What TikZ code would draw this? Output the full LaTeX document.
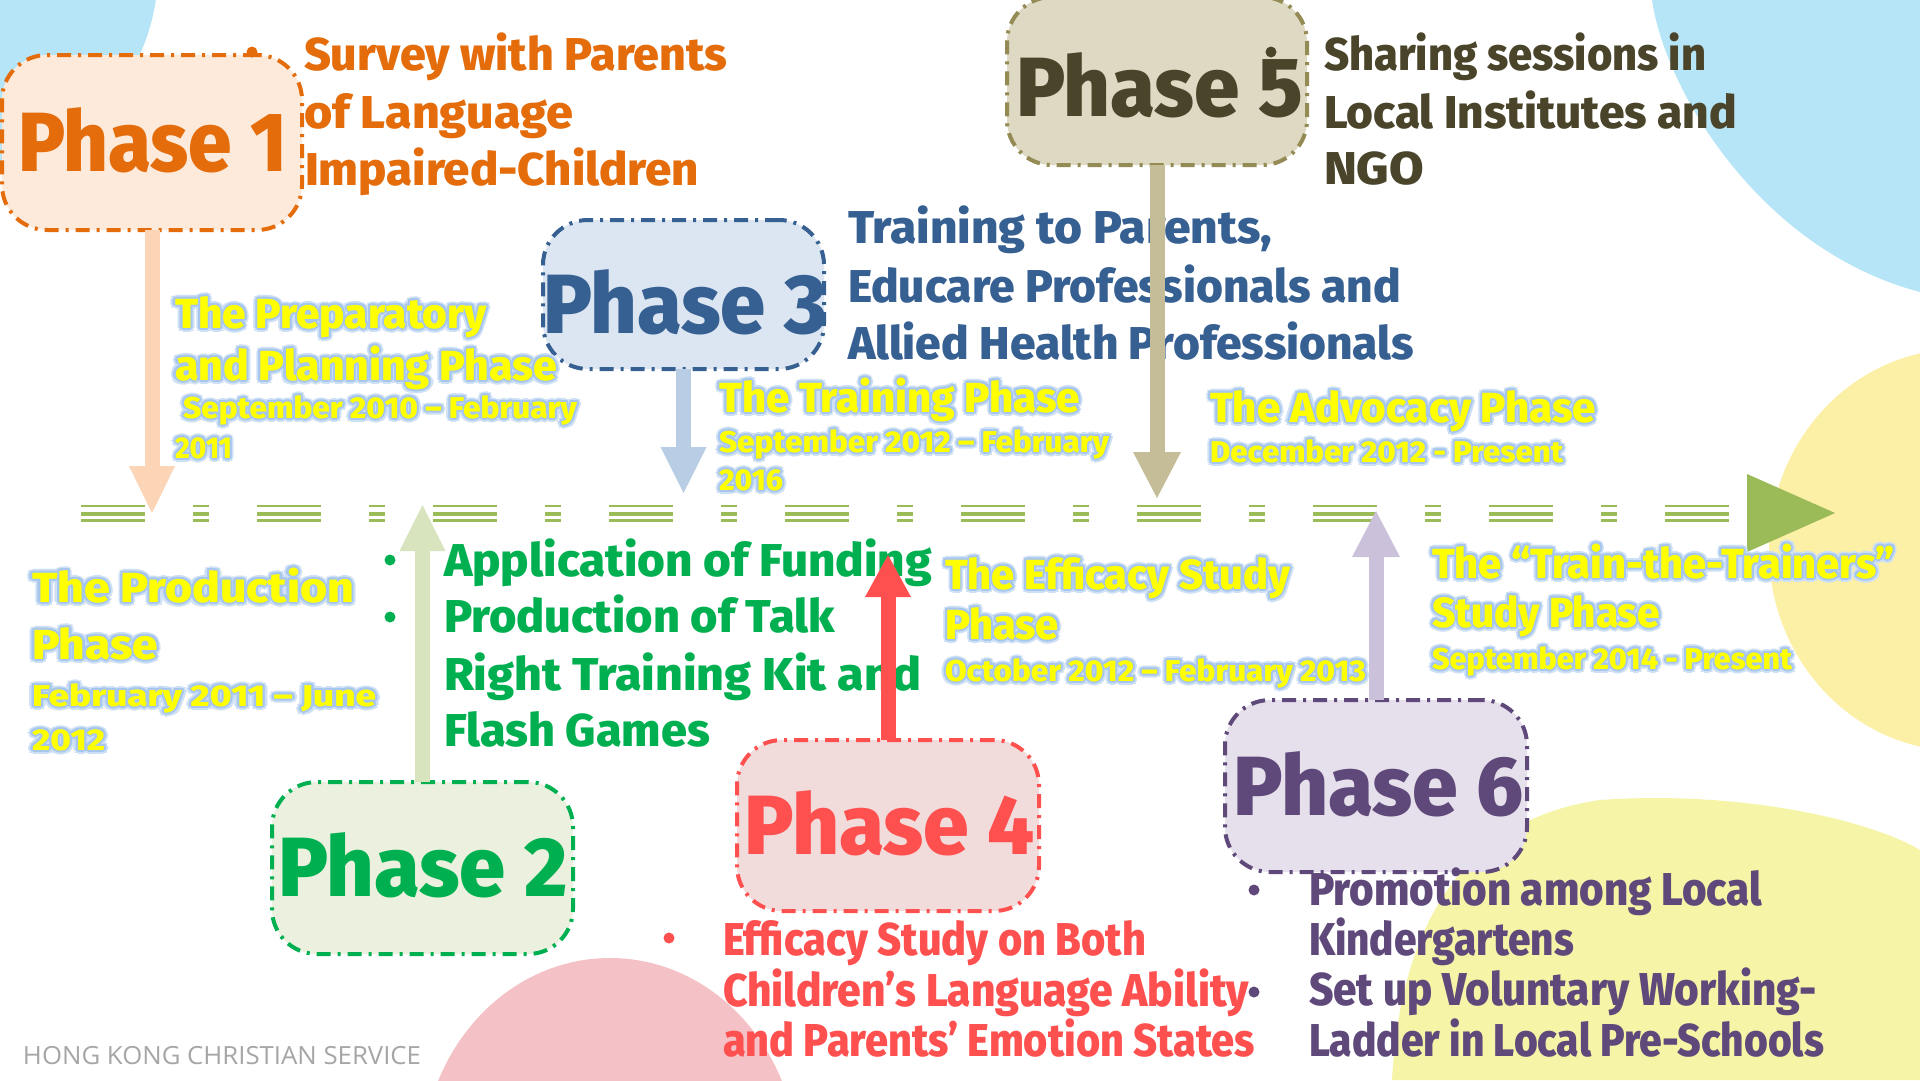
\documentclass[tikz,border=0pt]{standalone}
\usepackage{fontspec}
\usepackage{graphicx}
\setmainfont{Fira Sans}
\IfFontExistsTF{Fira Sans ExtraBold}{\newfontfamily\hv{Fira Sans ExtraBold}}{\newfontfamily\hv{Fira Sans}[UprightFont={* Bold}]}
\newfontfamily\footfont{Open Sans}
\definecolor{skyb}{HTML}{B6E5F7}
\definecolor{ylwA}{HTML}{FCEFA6}
\definecolor{ylwB}{HTML}{F6F4A6}
\definecolor{pinkb}{HTML}{F4C2C6}
\definecolor{tlgreen}{HTML}{9BBB59}
\definecolor{cA}{HTML}{E46C0A}\definecolor{fA}{HTML}{FDEADA}\definecolor{aA}{HTML}{FBD5B5}
\definecolor{cC}{HTML}{376092}\definecolor{fC}{HTML}{DCE6F2}\definecolor{aC}{HTML}{B9CDE5}
\definecolor{cE}{HTML}{4A452A}\definecolor{bE}{HTML}{948A54}\definecolor{fE}{HTML}{DDD9C3}\definecolor{aE}{HTML}{C4BD97}
\definecolor{cB}{HTML}{00B050}\definecolor{fB}{HTML}{EBF1DE}\definecolor{aB}{HTML}{D7E4BD}
\definecolor{cD}{HTML}{FF5050}\definecolor{fD}{HTML}{F2DCDB}\definecolor{aD}{HTML}{FF5050}
\definecolor{cF}{HTML}{5F497A}\definecolor{fF}{HTML}{E6E0EC}\definecolor{aF}{HTML}{CCC1DA}
\definecolor{yel}{HTML}{FFFF00}
\definecolor{glowc}{HTML}{A6C6EE}
\definecolor{footc}{HTML}{A6A6A6}
\newcommand\fitw[2]{\resizebox{#1pt}{\height}{#2}}
\newcommand\glowcopy[3]{\rlap{\textcolor{#1}{\hspace*{#2pt}\raisebox{#3pt}{\theglowtext}}}}
\newcommand\theglowtext{}
\newcommand\yl[1]{\renewcommand\theglowtext{#1}%
  \glowcopy{glowc!55}{4}{0}\glowcopy{glowc!55}{-4}{0}\glowcopy{glowc!55}{0}{4}\glowcopy{glowc!55}{0}{-4}%
  \glowcopy{glowc!55}{3}{3}\glowcopy{glowc!55}{-3}{3}\glowcopy{glowc!55}{3}{-3}\glowcopy{glowc!55}{-3}{-3}%
  \glowcopy{glowc}{2}{0}\glowcopy{glowc}{-2}{0}\glowcopy{glowc}{0}{2}\glowcopy{glowc}{0}{-2}%
  \glowcopy{glowc}{1.5}{1.5}\glowcopy{glowc}{-1.5}{1.5}\glowcopy{glowc}{1.5}{-1.5}\glowcopy{glowc}{-1.5}{-1.5}%
  \textcolor{yel}{#1}}
\begin{document}
\begin{tikzpicture}[x=1pt,y=-1pt,
  ln/.style={anchor=base west,inner sep=0pt,outer sep=0pt},
  desc/.style={ln,font=\fontsize{46}{50}\selectfont\hv},
  ttl/.style={ln,font=\fontsize{84}{90}\selectfont\hv},
  ybig/.style={ln,font=\fontsize{42}{46}\selectfont\hv},
  ysmall/.style={ln,font=\fontsize{30}{34}\selectfont\hv},
  pbox/.style={draw,line width=4pt,rounded corners=45pt,dash pattern=on 14pt off 7pt on 3pt off 7pt,inner sep=0pt,outer sep=0pt},
  shaft/.style={line width=15pt},
  tl/.style={draw=tlgreen,dash pattern=on 64pt off 48pt on 16pt off 48pt},
  bul/.style={radius=5.5}
]
\useasboundingbox (0,0) rectangle (1920,1080);
\clip (0,0) rectangle (1920,1080);
\fill[white] (0,0) rectangle (1920,1080);
% background blobs
\fill[skyb] (-60,-30) ellipse [x radius=218, y radius=211];
\fill[skyb] (1652,0) .. controls (1665,90) and (1760,250) .. (1920,292) -- (1920,0) -- cycle;
\fill[ylwA] (1960,550) ellipse [x radius=191, y radius=201];
\fill[ylwB] (1392,1080) .. controls (1400,930) and (1460,820) .. (1600,800) .. controls (1740,790) and (1870,820) .. (1920,850) -- (1920,1080) -- cycle;
\fill[pinkb] (610,1165) ellipse [x radius=188, y radius=207];
% timeline
\coordinate (tls) at (81,513.5);
\coordinate (tle) at (1729,513.5);
\coordinate (tlb) at (1747,513);
\coordinate (tltip) at (1835,513);
\draw[tl,line width=2.2pt] ([yshift=7.5pt]tls) -- ([yshift=7.5pt]tle);
\draw[tl,line width=4pt] (tls) -- (tle);
\draw[tl,line width=2.2pt] ([yshift=-7pt]tls) -- ([yshift=-7pt]tle);
\fill[tlgreen] ([yshift=39pt]tlb) -- (tltip) -- ([yshift=-39pt]tlb) -- cycle;
% boxes
\node[pbox,draw=cA,fill=fA,minimum width=300pt,minimum height=175pt] (p1) at (152,142.5) {};
\node[pbox,draw=cC,fill=fC,minimum width=281pt,minimum height=149pt] (p3) at (683.5,294.5) {};
\node[pbox,draw=bE,fill=fE,minimum width=300pt,minimum height=168pt] (p5) at (1157,81) {};
\node[pbox,draw=cB,fill=fB,minimum width=301pt,minimum height=172pt] (p2) at (422.5,868) {};
\node[pbox,draw=cD,fill=fD,minimum width=302pt,minimum height=171pt] (p4) at (888,825.5) {};
\node[pbox,draw=cF,fill=fF,minimum width=302pt,minimum height=172pt] (p6) at (1376,786) {};
% titles
\node[ttl,text=cA] (t1) at (18,171) {\fitw{269}{Phase 1}};
\node[ttl,text=cC] (t3) at (543,333) {\fitw{284}{Phase 3}};
\node[ttl,text=cE] (t5) at (1016,116) {\fitw{287}{Phase 5}};
\node[ttl,text=cB] (t2) at (278,896) {\fitw{290}{Phase 2}};
\node[ttl,text=cD] (t4) at (744,854) {\fitw{291}{Phase 4}};
\node[ttl,text=cF] (t6) at (1233,815) {\fitw{291}{Phase 6}};
% descriptions
\fill[cA] (252,52) circle[bul];
\node[desc,text=cA] (d1a) at (304,70) {\fitw{423}{Survey with Parents}};
\node[desc,text=cA] (d1b) at (304,128) {\fitw{269}{of Language}};
\node[desc,text=cA] (d1c) at (305,185) {\fitw{394}{Impaired-Children}};
\fill[cE] (1271,52) circle[bul];
\node[desc,text=cE] (d5a) at (1324,70) {\fitw{382}{Sharing sessions in}};
\node[desc,text=cE] (d5b) at (1324,128) {\fitw{413}{Local Institutes and}};
\node[desc,text=cE] (d5c) at (1324,184) {\fitw{100}{NGO}};
\node[desc,text=cC] (d3a) at (848,243) {\fitw{424}{Training to Parents,}};
\node[desc,text=cC] (d3b) at (848,302) {\fitw{553}{Educare Professionals and}};
\node[desc,text=cC] (d3c) at (848,359) {\fitw{566}{Allied Health Professionals}};
\fill[cB] (390,560) circle[bul];
\fill[cB] (390,617) circle[bul];
\node[desc,text=cB] (d2a) at (444,576) {\fitw{488}{Application of Funding}};
\node[desc,text=cB] (d2b) at (444,632) {\fitw{391}{Production of Talk}};
\node[desc,text=cB] (d2c) at (444,690) {\fitw{477}{Right Training Kit and}};
\node[desc,text=cB] (d2d) at (444,746) {\fitw{266}{Flash Games}};
\fill[cD] (669,938) circle[bul];
\node[desc,text=cD] (d4a) at (723,955) {\fitw{423}{Efficacy Study on Both}};
\node[desc,text=cD] (d4b) at (723,1006) {\fitw{526}{Children’s Language Ability}};
\node[desc,text=cD] (d4c) at (723,1056) {\fitw{532}{and Parents’ Emotion States}};
\fill[cF] (1254,890) circle[bul];
\fill[cF] (1254,992) circle[bul];
\node[desc,text=cF] (d6a) at (1309,905) {\fitw{453}{Promotion among Local}};
\node[desc,text=cF] (d6b) at (1309,955) {\fitw{265}{Kindergartens}};
\node[desc,text=cF] (d6c) at (1309,1005) {\fitw{508}{Set up Voluntary Working-}};
\node[desc,text=cF] (d6d) at (1309,1056) {\fitw{515}{Ladder in Local Pre-Schools}};
% connectors
\coordinate (e1) at (152,513);
\coordinate (e3) at (683.5,493);
\coordinate (e5) at (1157,498);
\coordinate (e2) at (422.5,505);
\coordinate (e4) at (888,555);
\coordinate (e6) at (1376,511);
\draw[shaft,aA] (p1.south) -- ([yshift=46pt]e1);
\fill[aA] (e1) -- ++(-23pt,47pt) -- ++(46pt,0pt) -- cycle;
\draw[shaft,aC] (p3.south) -- ([yshift=45pt]e3);
\fill[aC] (e3) -- ++(-23pt,46pt) -- ++(46pt,0pt) -- cycle;
\draw[shaft,aE] (p5.south) -- ([yshift=45pt]e5);
\fill[aE] (e5) -- ++(-24pt,46pt) -- ++(48pt,0pt) -- cycle;
\draw[shaft,aB] (p2.north) -- ([yshift=-45pt]e2);
\fill[aB] (e2) -- ++(-23pt,-46pt) -- ++(46pt,0pt) -- cycle;
\draw[shaft,aD] (p4.north) -- ([yshift=-41pt]e4);
\fill[aD] (e4) -- ++(-23pt,-42pt) -- ++(46pt,0pt) -- cycle;
\draw[shaft,aF] (p6.north) -- ([yshift=-45pt]e6);
\fill[aF] (e6) -- ++(-24pt,-46pt) -- ++(48pt,0pt) -- cycle;
% yellow phase labels
\node[ybig] (la1) at (175,328) {\fitw{312}{\yl{The Preparatory}}};
\node[ybig] (la2) at (175,380) {\fitw{382}{\yl{and Planning Phase}}};
\node[ysmall] (la3) at (183,418) {\fitw{394}{\yl{September 2010 – February}}};
\node[ysmall] (la4) at (175,458) {\fitw{57}{\yl{2011}}};
\node[ybig] (lb1) at (719,412) {\fitw{361}{\yl{The Training Phase}}};
\node[ysmall] (lb2) at (719,452) {\fitw{390}{\yl{September 2012 – February}}};
\node[ysmall] (lb3) at (719,490) {\fitw{64}{\yl{2016}}};
\node[ybig] (lc1) at (1210,422) {\fitw{386}{\yl{The Advocacy Phase}}};
\node[ysmall] (lc2) at (1210,462) {\fitw{353}{\yl{December 2012 - Present}}};
\node[ybig] (ld1) at (32,602) {\fitw{322}{\yl{The Production}}};
\node[ybig] (ld2) at (32,659) {\fitw{126}{\yl{Phase}}};
\node[ysmall] (ld3) at (32,706) {\fitw{344}{\yl{February 2011 – June}}};
\node[ysmall] (ld4) at (32,750) {\fitw{73}{\yl{2012}}};
\node[ybig] (le1) at (945,589) {\fitw{345}{\yl{The Efficacy Study}}};
\node[ybig] (le2) at (945,639) {\fitw{114}{\yl{Phase}}};
\node[ysmall] (le3) at (945,681) {\fitw{421}{\yl{October 2012 – February 2013}}};
\node[ybig] (lf1) at (1432,578) {\fitw{463}{\yl{The “Train-the-Trainers”}}};
\node[ybig] (lf2) at (1432,627) {\fitw{228}{\yl{Study Phase}}};
\node[ysmall] (lf3) at (1432,669) {\fitw{360}{\yl{September 2014 - Present}}};
% footer
\node[ln,font=\footfont\fontsize{25}{28}\selectfont,text=footc] (foot) at (23,1064) {\fitw{398}{HONG KONG CHRISTIAN SERVICE}};
\end{tikzpicture}
\end{document}
